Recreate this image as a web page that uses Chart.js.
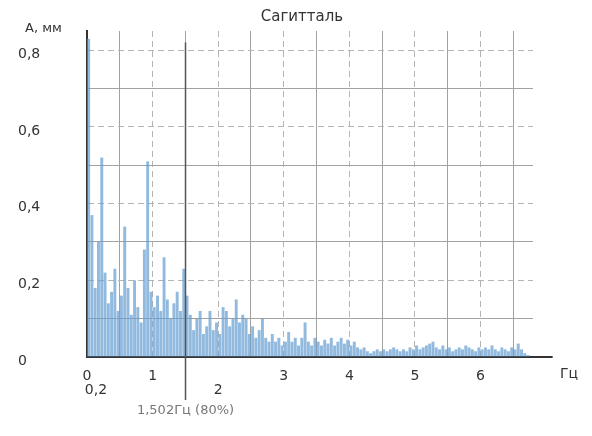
<!DOCTYPE html>
<html lang="ru">
<head>
<meta charset="utf-8">
<title>Сагитталь</title>
<script src="https://cdn.jsdelivr.net/npm/chart.js@4/dist/chart.umd.min.js"></script>
<style>
  html, body { margin: 0; padding: 0; background: #fff; }
  #wrap { width: 592px; height: 436px; position: relative; }
</style>
</head>
<body>
<div id="wrap"><canvas id="spectrum" width="592" height="436"></canvas></div>
<script>
// Amplitude spectrum of the sagittal sway, 0.05 Hz bins starting at 0.025 Hz
const FREQ_START_HZ = 0.025;
const FREQ_STEP_HZ = 0.05;
const AMPLITUDE_MM = [
  0.83, 0.37, 0.18, 0.30, 0.52, 0.22, 0.14, 0.17, 0.23, 0.12,
  0.16, 0.34, 0.18, 0.11, 0.20, 0.13, 0.09, 0.28, 0.51, 0.17,
  0.13, 0.16, 0.12, 0.26, 0.15, 0.10, 0.14, 0.17, 0.12, 0.23,
  0.16, 0.11, 0.07, 0.10, 0.12, 0.06, 0.08, 0.12, 0.07, 0.09,
  0.06, 0.13, 0.12, 0.08, 0.10, 0.15, 0.09, 0.11, 0.10, 0.06,
  0.08, 0.05, 0.07, 0.10, 0.05, 0.04, 0.06, 0.04, 0.05, 0.03,
  0.04, 0.065, 0.04, 0.05, 0.03, 0.05, 0.09, 0.04, 0.03, 0.05,
  0.04, 0.03, 0.045, 0.035, 0.05, 0.03, 0.04, 0.05, 0.035, 0.045,
  0.03, 0.04, 0.025, 0.02, 0.025, 0.015, 0.01, 0.015, 0.02, 0.015,
  0.02, 0.015, 0.02, 0.025, 0.02, 0.015, 0.02, 0.015, 0.025, 0.02,
  0.03, 0.02, 0.025, 0.03, 0.035, 0.04, 0.025, 0.02, 0.03, 0.02,
  0.025, 0.015, 0.02, 0.025, 0.02, 0.03, 0.025, 0.02, 0.015, 0.025,
  0.02, 0.025, 0.02, 0.03, 0.02, 0.015, 0.025, 0.02, 0.015, 0.025,
  0.02, 0.035, 0.02, 0.01, 0.005
];

// Axis ticks and labels
const X_TICK_VALUES = [0, 0.5, 1, 1.5, 2, 2.5, 3, 3.5, 4, 4.5, 5, 5.5, 6, 6.5];
const X_TICK_LABELS = [['0', '\u2007\u20070,2'], '', '1', '', ['', '2'], '', '3', '', '4', '', '5', '', '6', ''];
const Y_TICK_VALUES = [0, 0.1, 0.2, 0.3, 0.4, 0.5, 0.6, 0.7, 0.8];
const Y_TICK_LABELS = ['0', '', '0,2', '', '0,4', '', '0,6', '', '0,8'];

// Frequency holding 80% of the spectral power
const MARKER_HZ = 1.502;
const MARKER_SHARE = 80;

const TITLE = 'Сагитталь';
const Y_UNIT = 'А, мм';
const X_UNIT = 'Гц';

const points = AMPLITUDE_MM.map((a, i) => ({ x: FREQ_START_HZ + i * FREQ_STEP_HZ, y: a }));

const FONT = '"DejaVu Sans", "Liberation Sans", sans-serif';

const isMajorX = v => Math.abs(v - Math.round(v)) < 1e-6;
const isMajorY = v => Math.abs(v * 5 - Math.round(v * 5)) < 1e-6;

const decorations = {
  id: 'decorations',
  afterDraw(chart) {
    const { ctx, chartArea, scales } = chart;
    const xs = scales.x, ys = scales.y;
    ctx.save();

    // baseline runs a little past the plotted range
    ctx.strokeStyle = '#333';
    ctx.lineWidth = 2;
    ctx.beginPath();
    ctx.moveTo(chartArea.right - 1, chartArea.bottom);
    ctx.lineTo(xs.getPixelForValue(7.1), chartArea.bottom);
    ctx.stroke();

    // 80% power marker
    const mx = xs.getPixelForValue(MARKER_HZ);
    ctx.strokeStyle = '#555';
    ctx.lineWidth = 1.5;
    ctx.beginPath();
    ctx.moveTo(mx, ys.getPixelForValue(0.82));
    ctx.lineTo(mx, chartArea.bottom + 43);
    ctx.stroke();

    ctx.fillStyle = '#777';
    ctx.font = '13px ' + FONT;
    ctx.textAlign = 'center';
    ctx.textBaseline = 'top';
    ctx.fillText(MARKER_HZ.toFixed(3).replace('.', ',') + 'Гц (' + MARKER_SHARE + '%)', mx, chartArea.bottom + 47);

    // title and units
    ctx.fillStyle = '#333';
    ctx.font = '15px ' + FONT;
    ctx.fillText(TITLE, 302, 10);

    ctx.textAlign = 'left';
    ctx.font = '13px ' + FONT;
    ctx.fillText(Y_UNIT, 25, 22);

    ctx.font = '14px ' + FONT;
    ctx.fillText(X_UNIT, 560, chartArea.bottom + 10);
    ctx.restore();
  }
};

new Chart(document.getElementById('spectrum'), {
  type: 'bar',
  data: {
    datasets: [{
      data: points,
      backgroundColor: 'rgba(104, 160, 210, 0.72)',
      borderWidth: 0,
      barPercentage: 0.9,
      categoryPercentage: 1.0
    }]
  },
  options: {
    responsive: false,
    animation: false,
    events: [],
    layout: { padding: { top: 31, right: 59, bottom: 0, left: 18 } },
    plugins: {
      legend: { display: false },
      title: { display: false },
      tooltip: { enabled: false }
    },
    scales: {
      x: {
        type: 'linear',
        min: 0,
        max: 6.8,
        offset: false,
        afterBuildTicks: s => { s.ticks = X_TICK_VALUES.map(v => ({ value: v })); },
        afterFit: s => { s.height = 79; },
        grid: {
          offset: false,
          drawTicks: false,
          color: c => (c.tick && isMajorX(c.tick.value)) ? '#b4b4b4' : '#a2a2a2',
          lineWidth: 1
        },
        border: {
          display: true,
          color: '#333',
          width: 2,
          dash: c => (c.tick && isMajorX(c.tick.value) && c.tick.value > 0) ? [6, 4] : []
        },
        ticks: {
          padding: 13,
          color: '#333',
          font: { family: FONT, size: 14, lineHeight: 0.95 },
          maxRotation: 0,
          autoSkip: false,
          callback: (v, i) => X_TICK_LABELS[i]
        }
      },
      y: {
        min: 0,
        max: 0.85,
        afterBuildTicks: s => { s.ticks = Y_TICK_VALUES.map(v => ({ value: v })); },
        afterFit: s => { s.width = 69; },
        grid: {
          drawTicks: false,
          color: c => (c.tick && isMajorY(c.tick.value)) ? '#b4b4b4' : '#a2a2a2',
          lineWidth: 1
        },
        border: {
          display: true,
          color: '#333',
          width: 2,
          dash: c => (c.tick && isMajorY(c.tick.value) && c.tick.value > 0) ? [6, 4] : []
        },
        ticks: {
          crossAlign: 'far',
          labelOffset: 4,
          color: '#333',
          font: { family: FONT, size: 14 },
          autoSkip: false,
          callback: (v, i) => Y_TICK_LABELS[i]
        }
      }
    }
  },
  plugins: [decorations]
});
</script>
</body>
</html>
